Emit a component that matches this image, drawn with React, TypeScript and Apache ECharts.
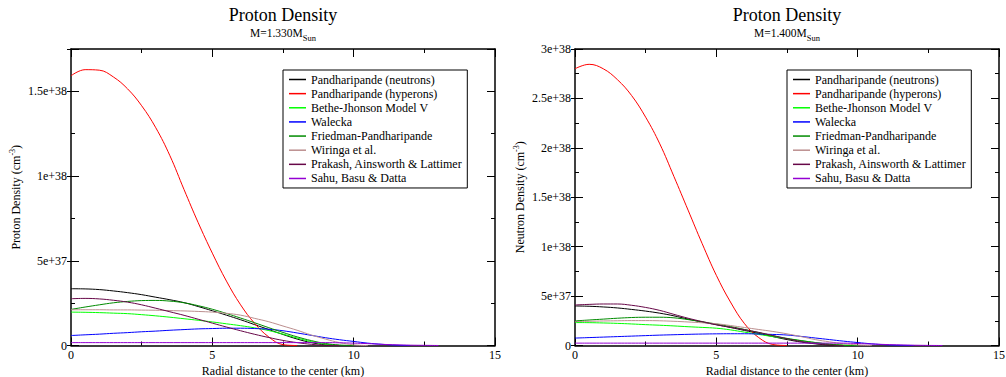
import React, { useEffect, useRef } from 'react';
import * as echarts from 'echarts';

// Sampling radii (km) shared by every density profile
const RADIUS_KM = [
  0, 0.5, 1, 1.5, 2, 2.5, 3, 3.5, 4, 4.5, 5, 5.5, 6, 6.5, 7, 7.5, 8, 8.5, 9, 9.5,
  10, 10.5, 11, 11.5, 12, 12.5, 13,
];

// Density values are stored in units of 1e37 cm^-3
const DENSITY_UNIT = 1e37;

const SERIES_NAMES = [
  'Pandharipande (neutrons)',
  'Pandharipande (hyperons)',
  'Bethe-Jhonson Model V',
  'Walecka',
  'Friedman-Pandharipande',
  'Wiringa et al.',
  'Prakash, Ainsworth & Lattimer',
  'Sahu, Basu & Datta',
];

const SERIES_COLORS = ['#000000', '#ff0000', '#00ff00', '#0000ff', '#008b00', '#bc8f8f', '#670748', '#9400d3'];

// M = 1.330 M_sun
const M133_PAND_N = [3.35, 3.34, 3.3, 3.22, 3.12, 3.0, 2.85, 2.7, 2.53, 2.3, 2.05, 1.79, 1.52, 1.23, 0.94, 0.65, 0.38, 0.17, 0.04, 0];
const M133_PAND_H = [15.92, 16.28, 16.25, 15.85, 15.15, 14.15, 12.85, 11.2, 9.2, 7.25, 5.45, 3.8, 2.4, 1.3, 0.5, 0.05, 0];
const M133_BETHE = [1.97, 1.96, 1.94, 1.91, 1.88, 1.82, 1.75, 1.67, 1.58, 1.49, 1.39, 1.28, 1.17, 1.04, 0.88, 0.67, 0.44, 0.23, 0.07, 0];
const M133_WALECKA = [0.59, 0.63, 0.67, 0.72, 0.76, 0.81, 0.85, 0.9, 0.94, 0.98, 1.0, 1.02, 1.02, 1.0, 0.96, 0.87, 0.74, 0.6, 0.46, 0.34, 0.24, 0.14, 0.07, 0.02, 0];
const M133_FRIEDMAN = [2.13, 2.27, 2.4, 2.52, 2.6, 2.65, 2.66, 2.62, 2.52, 2.35, 2.14, 1.89, 1.62, 1.34, 1.05, 0.77, 0.51, 0.29, 0.12, 0.03, 0];
const M133_WIRINGA = [2.11, 2.11, 2.11, 2.1, 2.1, 2.09, 2.08, 2.06, 2.04, 2.01, 1.97, 1.9, 1.79, 1.6, 1.4, 1.15, 0.9, 0.62, 0.38, 0.17, 0.04, 0];
const M133_PRAKASH = [2.76, 2.78, 2.75, 2.67, 2.56, 2.4, 2.2, 1.99, 1.78, 1.55, 1.32, 1.09, 0.87, 0.66, 0.47, 0.3, 0.17, 0.07, 0.01, 0];
const M133_SAHU = [0.17, 0.17, 0.17, 0.17, 0.17, 0.17, 0.17, 0.17, 0.17, 0.17, 0.17, 0.17, 0.17, 0.17, 0.17, 0.17, 0.17, 0.17, 0.17, 0.16, 0.14, 0.11, 0.07, 0.04, 0.02, 0.01, 0];

// M = 1.400 M_sun
const M140_PAND_N = [4.0, 3.97, 3.9, 3.8, 3.65, 3.48, 3.27, 3.0, 2.67, 2.37, 2.1, 1.82, 1.52, 1.22, 0.9, 0.6, 0.35, 0.17, 0.05, 0];
const M140_PAND_H = [28.0, 28.45, 28.0, 26.9, 25.3, 23.1, 20.4, 17.1, 13.7, 10.3, 7.1, 4.4, 2.2, 0.8, 0.1, 0];
const M140_BETHE = [2.32, 2.31, 2.28, 2.24, 2.18, 2.11, 2.05, 1.98, 1.9, 1.83, 1.75, 1.58, 1.35, 1.12, 0.9, 0.69, 0.48, 0.3, 0.13, 0.03, 0];
const M140_WALECKA = [0.75, 0.8, 0.85, 0.9, 0.95, 1.0, 1.05, 1.09, 1.13, 1.16, 1.18, 1.19, 1.19, 1.16, 1.12, 1.06, 0.92, 0.76, 0.6, 0.44, 0.3, 0.17, 0.07, 0.02, 0];
const M140_FRIEDMAN = [2.49, 2.58, 2.67, 2.76, 2.83, 2.86, 2.86, 2.8, 2.62, 2.4, 2.17, 1.92, 1.62, 1.3, 1.0, 0.72, 0.5, 0.3, 0.13, 0.03, 0];
const M140_WIRINGA = [2.42, 2.45, 2.48, 2.5, 2.52, 2.52, 2.5, 2.45, 2.38, 2.3, 2.2, 2.02, 1.82, 1.62, 1.42, 1.18, 0.9, 0.6, 0.37, 0.18, 0.06, 0];
const M140_PRAKASH = [4.1, 4.16, 4.2, 4.2, 4.07, 3.85, 3.55, 3.15, 2.76, 2.42, 2.1, 1.85, 1.6, 1.33, 1.0, 0.68, 0.41, 0.2, 0.06, 0];
const M140_SAHU = [0.24, 0.24, 0.24, 0.24, 0.24, 0.24, 0.24, 0.24, 0.24, 0.24, 0.24, 0.24, 0.24, 0.24, 0.24, 0.24, 0.24, 0.24, 0.24, 0.24, 0.2, 0.15, 0.1, 0.06, 0.03, 0.01, 0];

const PANEL_DATA = [
  [M133_PAND_N, M133_PAND_H, M133_BETHE, M133_WALECKA, M133_FRIEDMAN, M133_WIRINGA, M133_PRAKASH, M133_SAHU],
  [M140_PAND_N, M140_PAND_H, M140_BETHE, M140_WALECKA, M140_FRIEDMAN, M140_WIRINGA, M140_PRAKASH, M140_SAHU],
];

const PANEL_TITLES = ['Proton Density', 'Proton Density'];
const PANEL_MASSES = ['1.330', '1.400'];
const Y_AXIS_NAMES = ['Proton Density', 'Neutron Density'];
const Y_MAX = [1.75e38, 3e38];
const X_AXIS_NAME = 'Radial distance to the center (km)';
const X_MAX = 15;
const X_MAJOR = 5;
const Y_MAJOR = 5e37;
const Y_MINOR = 2.5e37;

// Layout
const GRID_LEFT = [71, 575];
const GRID_TOP = 49;
const GRID_W = 424;
const GRID_H = 296.5;
const LEGEND_LEFT = [283, 787];
const LEGEND_TOP = 70;

const FONT = "'Liberation Serif', 'Times New Roman', serif";
const INK = '#000';

function formatDensity(v: number): string {
  if (Math.abs(v) < 1) return '0';
  const r = v / Y_MAJOR;
  if (Math.abs(r - Math.round(r)) > 1e-6) return '';
  return Number(v.toPrecision(6)).toExponential();
}

function buildOption() {
  const grid: any[] = [];
  const xAxis: any[] = [];
  const yAxis: any[] = [];
  const series: any[] = [];
  const legend: any[] = [];
  const graphic: any[] = [];

  const frameLine = { show: true, onZero: false, lineStyle: { color: INK, width: 1.5 } };
  const tickLine = { color: INK, width: 1 };
  const labelStyle = { color: INK, fontFamily: FONT, fontSize: 12 };

  PANEL_DATA.forEach((panel, i) => {
    grid.push({
      left: GRID_LEFT[i],
      top: GRID_TOP,
      width: GRID_W,
      height: GRID_H,
      containLabel: false,
      outerBoundsMode: 'none',
    });
    const cx = GRID_LEFT[i] + GRID_W / 2;

    // bottom and top x axes (top one mirrors the ticks)
    ['bottom', 'top'].forEach((pos) => {
      xAxis.push({
        gridIndex: i,
        type: 'value',
        position: pos,
        min: 0,
        max: X_MAX,
        interval: X_MAJOR,
        axisLine: frameLine,
        axisTick: { show: true, inside: true, length: 8, lineStyle: tickLine },
        minorTick: { show: true, splitNumber: 2, length: 4, lineStyle: tickLine },
        axisLabel: pos === 'bottom' ? { ...labelStyle, margin: 3 } : { show: false },
        splitLine: { show: false },
        minorSplitLine: { show: false },
        ...(pos === 'bottom'
          ? {
              name: X_AXIS_NAME,
              nameLocation: 'middle',
              nameGap: 12,
              nameTextStyle: { ...labelStyle },
            }
          : {}),
      });
    });

    const yBase = {
      gridIndex: i,
      type: 'value',
      min: 0,
      max: Y_MAX[i],
      splitLine: { show: false },
      minorSplitLine: { show: false },
    };

    // left: minor ticks + labels + frame
    yAxis.push({
      ...yBase,
      position: 'left',
      interval: Y_MINOR,
      axisLine: frameLine,
      axisTick: { show: true, inside: true, length: 4, lineStyle: tickLine },
      axisLabel: { ...labelStyle, margin: 4, formatter: formatDensity },
      name: `${Y_AXIS_NAMES[i]} (cm{sup|-3})`,
      nameLocation: 'middle',
      nameGap: 44,
      nameTextStyle: {
        ...labelStyle,
        lineHeight: 16,
        rich: { sup: { fontFamily: FONT, fontSize: 8, lineHeight: 8, verticalAlign: 'top', color: INK } },
      },
    });
    // left: major ticks inside
    yAxis.push({
      ...yBase,
      position: 'left',
      interval: Y_MAJOR,
      axisLine: { show: false },
      axisTick: { show: true, inside: true, length: 8, lineStyle: tickLine },
      axisLabel: { show: false },
    });
    // left: short outward stubs at major ticks
    yAxis.push({
      ...yBase,
      position: 'left',
      interval: Y_MAJOR,
      axisLine: { show: false },
      axisTick: { show: true, inside: false, length: 4, lineStyle: tickLine },
      axisLabel: { show: false },
    });
    // right: minor ticks + frame
    yAxis.push({
      ...yBase,
      position: 'right',
      interval: Y_MINOR,
      axisLine: frameLine,
      axisTick: { show: true, inside: true, length: 4, lineStyle: tickLine },
      axisLabel: { show: false },
    });
    // right: major ticks
    yAxis.push({
      ...yBase,
      position: 'right',
      interval: Y_MAJOR,
      axisLine: { show: false },
      axisTick: { show: true, inside: true, length: 8, lineStyle: tickLine },
      axisLabel: { show: false },
    });

    panel.forEach((values, k) => {
      const color = SERIES_COLORS[k];
      series.push({
        type: 'line',
        name: SERIES_NAMES[k],
        xAxisIndex: i * 2,
        yAxisIndex: i * 5,
        data: values.map((v, j) => [RADIUS_KM[j], v * DENSITY_UNIT]),
        showSymbol: false,
        symbol: 'none',
        smooth: 0.4,
        color,
        lineStyle: { color, width: 1 },
        z: 2 + k,
      });
    });

    legend.push({
      left: LEGEND_LEFT[i],
      top: LEGEND_TOP,
      orient: 'vertical',
      data: SERIES_NAMES,
      icon: 'rect',
      itemWidth: 17,
      itemHeight: 1.5,
      itemGap: 2.14,
      padding: [3.5, 5, 3.5, 6],
      borderColor: INK,
      borderWidth: 1,
      backgroundColor: '#fff',
      selectedMode: false,
      textStyle: { color: INK, fontFamily: FONT, fontSize: 12, lineHeight: 12 },
    });

    graphic.push({
      type: 'text',
      x: cx,
      y: 15,
      style: {
        text: PANEL_TITLES[i],
        fontFamily: FONT,
        fontSize: 18,
        fill: INK,
        align: 'center',
        verticalAlign: 'middle',
      },
    });
    graphic.push({
      type: 'text',
      x: cx,
      y: 33,
      style: {
        text: `{b|M=${PANEL_MASSES[i]}M}{s|Sun}`,
        fill: INK,
        align: 'center',
        verticalAlign: 'middle',
        rich: {
          b: { fontFamily: FONT, fontSize: 11.5, lineHeight: 12, verticalAlign: 'top', fill: INK },
          s: { fontFamily: FONT, fontSize: 8.5, lineHeight: 9, padding: [6, 0, 0, 0], verticalAlign: 'top', fill: INK },
        },
      },
    });
  });

  return {
    animation: false,
    backgroundColor: '#fff',
    grid,
    xAxis,
    yAxis,
    series,
    legend,
    graphic,
  };
}

export default function App() {
  const ref = useRef<HTMLDivElement>(null);
  useEffect(() => {
    if (!ref.current) return;
    const chart = echarts.init(ref.current, undefined, { renderer: 'svg' });
    chart.setOption(buildOption() as any);
    return () => chart.dispose();
  }, []);
  return (
    <div
      ref={ref}
      style={{ position: 'absolute', left: 0, top: 0, width: 1006, height: 377 }}
    />
  );
}
